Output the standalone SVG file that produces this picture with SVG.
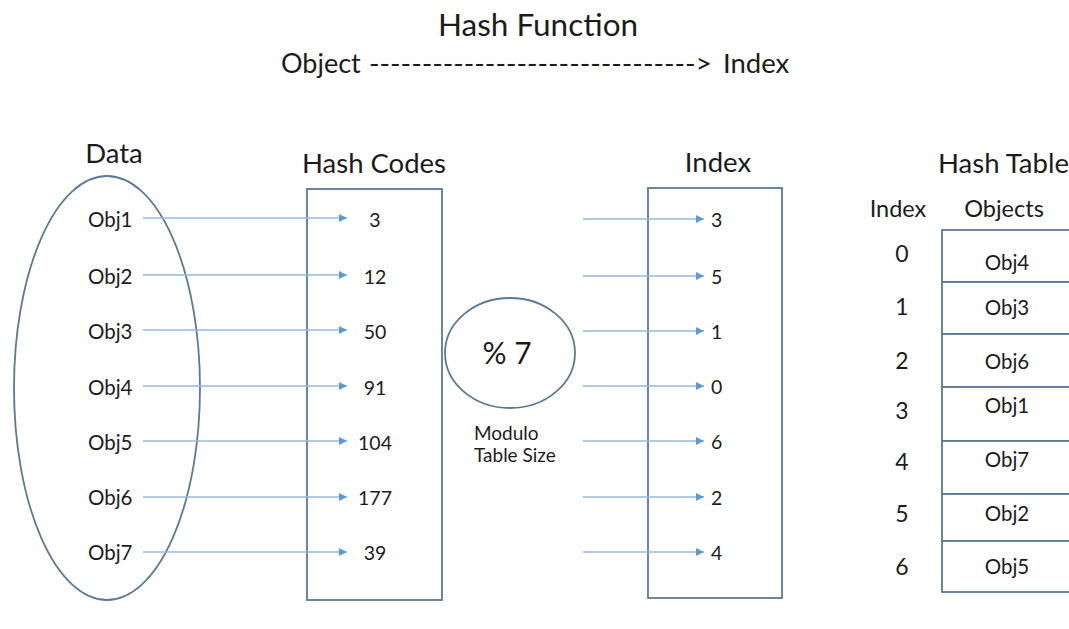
<svg xmlns="http://www.w3.org/2000/svg" width="1069" height="629" viewBox="0 0 1069 629">
<defs>
<style>
text{font-family:Lato,"Open Sans","Liberation Sans",sans-serif;fill:#1c1c1c}
.h{font-size:27.5px}
.o{font-size:20.5px}
.v{font-size:19.5px}
.shape{fill:none;stroke:#5b7a96;stroke-width:1.8}
.cell{fill:#ffffff;stroke:#5b7a96;stroke-width:1.8}
.arr{stroke:#94bad8;stroke-width:1.5;fill:none;marker-end:url(#ah)}
</style>
<marker id="ah" viewBox="0 0 10 10" refX="10" refY="5" markerWidth="8" markerHeight="8" markerUnits="userSpaceOnUse" orient="auto">
<path d="M0,0 L10,5 L0,10 z" fill="#5b9bd5"/>
</marker>
</defs>
<rect width="1069" height="629" fill="#ffffff"/>

<g id="title">
<text x="538" y="36" text-anchor="middle" style="font-size:31.5px">Hash Function</text>
<text x="281" y="73" style="font-size:27px">Object</text>
<text x="369" y="73" textLength="343" lengthAdjust="spacingAndGlyphs" style="font-size:27px">-------------------------------&gt;</text>
<text x="723" y="73" style="font-size:27.5px">Index</text>
</g>

<g id="data">
<ellipse class="shape" cx="107" cy="388" rx="93" ry="212"/>
<text class="h" x="114" y="163" text-anchor="middle">Data</text>
<text class="o" x="88" y="227">Obj1</text>
<text class="o" x="88" y="284">Obj2</text>
<text class="o" x="88" y="339">Obj3</text>
<text class="o" x="88" y="395">Obj4</text>
<text class="o" x="88" y="450">Obj5</text>
<text class="o" x="88" y="505">Obj6</text>
<text class="o" x="88" y="560">Obj7</text>
</g>

<g id="hash-codes">
<rect class="shape" x="307" y="189" width="135" height="411"/>
<text class="h" x="374" y="173" text-anchor="middle">Hash Codes</text>
<text class="v" x="375" y="227" text-anchor="middle">3</text>
<text class="v" x="375" y="284" text-anchor="middle">12</text>
<text class="v" x="375" y="339" text-anchor="middle">50</text>
<text class="v" x="375" y="395" text-anchor="middle">91</text>
<text class="v" x="375" y="450" text-anchor="middle">104</text>
<text class="v" x="375" y="505" text-anchor="middle">177</text>
<text class="v" x="375" y="560" text-anchor="middle">39</text>
</g>

<g id="modulo">
<ellipse class="shape" cx="510" cy="353" rx="65" ry="55"/>
<text x="507" y="364" text-anchor="middle" style="font-size:30px">% 7</text>
<text x="474" y="440" style="font-size:19px">Modulo</text>
<text x="474" y="462" style="font-size:19px">Table Size</text>
</g>

<g id="index">
<rect class="shape" x="648" y="188" width="134" height="410"/>
<text class="h" x="718" y="172" text-anchor="middle">Index</text>
<text class="v" x="711" y="227">3</text>
<text class="v" x="711" y="284">5</text>
<text class="v" x="711" y="339">1</text>
<text class="v" x="711" y="394">0</text>
<text class="v" x="711" y="449">6</text>
<text class="v" x="711" y="505">2</text>
<text class="v" x="711" y="560">4</text>
</g>

<g id="hash-table">
<text class="h" x="938" y="173">Hash Table</text>
<text x="898" y="217" text-anchor="middle" style="font-size:23.5px">Index</text>
<text x="1004" y="217" text-anchor="middle" style="font-size:23.5px">Objects</text>
<rect class="cell" x="942" y="230" width="140" height="52"/>
<rect class="cell" x="942" y="282" width="140" height="52"/>
<rect class="cell" x="942" y="334" width="140" height="53"/>
<rect class="cell" x="942" y="387" width="140" height="54"/>
<rect class="cell" x="942" y="441" width="140" height="53"/>
<rect class="cell" x="942" y="494" width="140" height="47"/>
<rect class="cell" x="942" y="541" width="140" height="51"/>
<g style="font-size:23px">
<text x="902" y="262" text-anchor="middle">0</text>
<text x="902" y="315" text-anchor="middle">1</text>
<text x="902" y="369" text-anchor="middle">2</text>
<text x="902" y="419" text-anchor="middle">3</text>
<text x="902" y="470" text-anchor="middle">4</text>
<text x="902" y="522" text-anchor="middle">5</text>
<text x="902" y="575" text-anchor="middle">6</text>
</g>
<g class="o" text-anchor="middle">
<text x="1007" y="270">Obj4</text>
<text x="1007" y="315">Obj3</text>
<text x="1007" y="369">Obj6</text>
<text x="1007" y="413">Obj1</text>
<text x="1007" y="467">Obj7</text>
<text x="1007" y="521">Obj2</text>
<text x="1007" y="574">Obj5</text>
</g>
</g>

<g id="connectors">
<line class="arr" x1="143" y1="218" x2="347" y2="218"/>
<line class="arr" x1="143" y1="275" x2="347" y2="275"/>
<line class="arr" x1="143" y1="330" x2="347" y2="330"/>
<line class="arr" x1="143" y1="386" x2="347" y2="386"/>
<line class="arr" x1="143" y1="441" x2="347" y2="441"/>
<line class="arr" x1="143" y1="497" x2="347" y2="497"/>
<line class="arr" x1="143" y1="552" x2="347" y2="552"/>
<line class="arr" x1="583" y1="219" x2="704" y2="219"/>
<line class="arr" x1="583" y1="276" x2="704" y2="276"/>
<line class="arr" x1="583" y1="331" x2="704" y2="331"/>
<line class="arr" x1="583" y1="386" x2="704" y2="386"/>
<line class="arr" x1="583" y1="441" x2="704" y2="441"/>
<line class="arr" x1="583" y1="497" x2="704" y2="497"/>
<line class="arr" x1="583" y1="552" x2="704" y2="552"/>
</g>
</svg>
